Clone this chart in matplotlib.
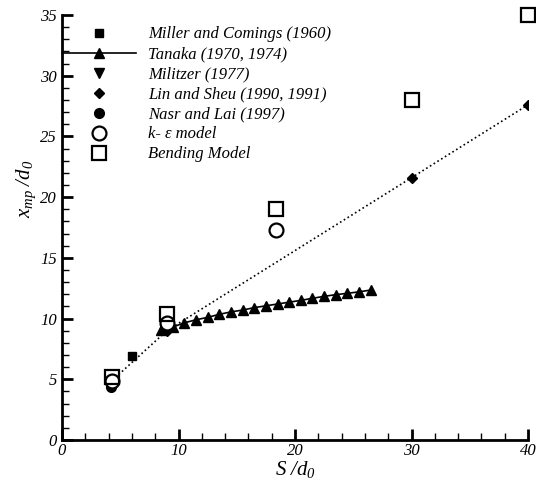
import matplotlib
matplotlib.use("Agg")
import matplotlib.pyplot as plt
from matplotlib.ticker import MultipleLocator

plt.rcParams['font.family'] = ['Liberation Serif', 'DejaVu Serif']
plt.rcParams['font.style'] = 'italic'
plt.rcParams['mathtext.fontset'] = 'custom'
plt.rcParams['mathtext.it'] = 'Liberation Serif:italic'
plt.rcParams['mathtext.rm'] = 'Liberation Serif:italic'

# experimental data
miller_x = [6.0]
miller_y = [6.9]

tanaka_x = [8.5, 9.5, 10.5, 11.5, 12.5, 13.5, 14.5, 15.5, 16.5, 17.5,
            18.5, 19.5, 20.5, 21.5, 22.5, 23.5, 24.5, 25.5, 26.5]
tanaka_y = [9.05, 9.3, 9.65, 9.9, 10.1, 10.35, 10.55, 10.7, 10.9, 11.05,
            11.2, 11.35, 11.5, 11.67, 11.83, 11.97, 12.08, 12.2, 12.35]

militzer_x = [4.3]
militzer_y = [4.6]

lin_x = [4.3, 9.0, 30.0, 40.0]
lin_y = [4.9, 9.0, 21.6, 27.6]

nasr_x = [4.2]
nasr_y = [4.35]

# model results
ke_x = [4.3, 9.0, 18.4]
ke_y = [4.9, 9.6, 17.3]

bend_x = [4.3, 9.0, 18.4, 30.0, 40.0]
bend_y = [5.2, 10.4, 19.0, 28.0, 35.0]

fig = plt.figure(figsize=(5.36, 4.8), dpi=100)
ax = fig.add_axes([0.1157, 0.0833, 0.8694, 0.8855])

ax.plot(lin_x, lin_y, linestyle=':', color='black', linewidth=1.2, zorder=1)
ax.plot(miller_x, miller_y, 's', color='black', markersize=5.5, linestyle='none',
        label='Miller and Comings (1960)')
ax.plot(tanaka_x, tanaka_y, '^-', color='black', markersize=6.5, linewidth=1.2,
        label='Tanaka (1970, 1974)')
ax.plot(militzer_x, militzer_y, 'v', color='black', markersize=6.5, linestyle='none',
        label='Militzer (1977)')
ax.plot(lin_x, lin_y, 'D', color='black', markersize=5.5, linestyle='none',
        label='Lin and Sheu (1990, 1991)')
ax.plot(nasr_x, nasr_y, 'o', color='black', markersize=7, linestyle='none',
        label='Nasr and Lai (1997)')
ax.plot(ke_x, ke_y, 'o', markerfacecolor='white', markeredgecolor='black',
        markeredgewidth=1.6, markersize=10, linestyle='none', label='k- ε model')
ax.plot(bend_x, bend_y, 's', markerfacecolor='none', markeredgecolor='black',
        markeredgewidth=1.6, markersize=10, linestyle='none', label='Bending Model',
        clip_on=False)

ax.set_xlim(0, 40)
ax.set_ylim(0, 35)
ax.xaxis.set_major_locator(MultipleLocator(10))
ax.xaxis.set_minor_locator(MultipleLocator(2))
ax.yaxis.set_major_locator(MultipleLocator(5))
ax.yaxis.set_minor_locator(MultipleLocator(1))

for side in ['top', 'right']:
    ax.spines[side].set_visible(False)
for side in ['left', 'bottom']:
    ax.spines[side].set_linewidth(2)

ax.tick_params(which='major', direction='in', length=8, width=2, labelsize=12)
ax.tick_params(which='minor', direction='in', length=5, width=1)
ax.tick_params(axis='x', pad=2)

ax.set_xlabel(r'$S\ /d_0$', fontsize=15, labelpad=0, x=0.5)
ax.set_ylabel(r'$x_{mp}\ /d_0$', fontsize=15, labelpad=2, y=0.59)

ax.legend(loc='upper left', bbox_to_anchor=(0.0, 0.973), frameon=False,
          fontsize=12, handlelength=4.43, handletextpad=0.72, labelspacing=0.24,
          borderpad=0, borderaxespad=0, numpoints=1)

fig.savefig('out.png', dpi=100)
